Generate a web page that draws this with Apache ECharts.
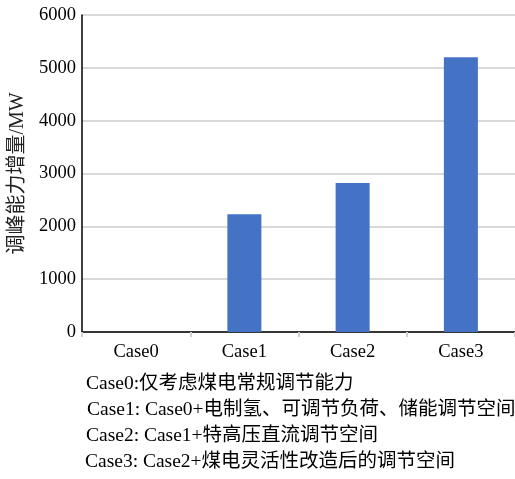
<!DOCTYPE html>
<html>
<head>
<meta charset="utf-8">
<script src="https://cdn.jsdelivr.net/npm/echarts@6/dist/echarts.min.js"></script>
<style>
html,body{margin:0;padding:0;background:#fff;}
#chart{width:515px;height:479px;}
</style>
</head>
<body>
<div id="chart"></div>
<script>
const categories = ['Case0', 'Case1', 'Case2', 'Case3'];
const values = [0, 2230, 2820, 5200];
const yMin = 0, yMax = 6000, yInterval = 1000;
const yAxisName = '调峰能力增量/MW';
const notes = [
  'Case0:仅考虑煤电常规调节能力',
  'Case1: Case0+电制氢、可调节负荷、储能调节空间',
  'Case2: Case1+特高压直流调节空间',
  'Case3: Case2+煤电灵活性改造后的调节空间'
];

const FONT = '"Liberation Serif", "Times New Roman", "Noto Sans CJK SC", serif';
const noteX = [86, 87, 86, 85];
const noteY = [385, 411, 437, 463];

const chart = echarts.init(document.getElementById('chart'), null, {renderer: 'canvas'});
chart.setOption({
  animation: false,
  backgroundColor: '#fff',
  textStyle: {fontFamily: FONT},
  grid: {left: 82, right: 0, top: 15, bottom: 147, containLabel: false},
  xAxis: {
    type: 'category',
    data: categories,
    axisLine: {show: true, lineStyle: {color: '#000', width: 1.5}},
    axisTick: {show: true, alignWithLabel: false, length: 5, lineStyle: {color: '#d0d0d0', width: 2}},
    axisLabel: {color: '#000', fontSize: 18.5, fontFamily: FONT, margin: 11}
  },
  yAxis: {
    type: 'value',
    min: yMin, max: yMax, interval: yInterval,
    name: yAxisName,
    nameLocation: 'middle',
    nameGap: 47,
    nameRotate: 90,
    nameTextStyle: {color: '#222', fontSize: 20, fontFamily: FONT},
    axisLine: {show: true, lineStyle: {color: '#000', width: 1.5}},
    axisTick: {show: false},
    axisLabel: {color: '#000', fontSize: 18.5, fontFamily: FONT, margin: 6, formatter: v => String(v)},
    splitLine: {show: true, lineStyle: {color: '#d9d9d9', width: 2}}
  },
  series: [{
    type: 'bar',
    data: values,
    barWidth: 34,
    itemStyle: {color: '#4472C4'}
  }],
  graphic: notes.map((t, i) => ({
    type: 'text',
    left: noteX[i],
    top: noteY[i] - 11,
    style: {text: t, fill: '#000', fontSize: 19.5, fontFamily: FONT}
  }))
});
</script>
</body>
</html>
